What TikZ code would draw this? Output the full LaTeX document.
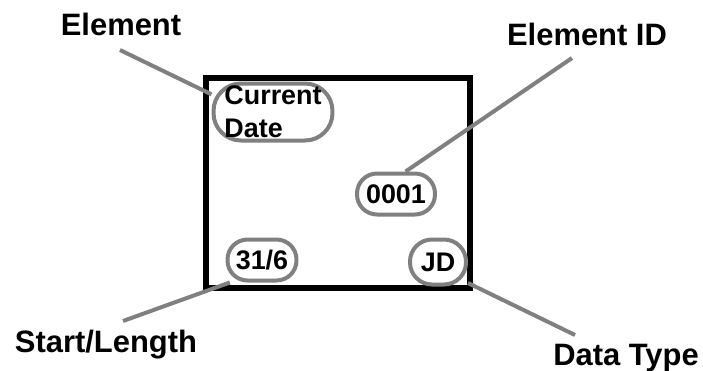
\documentclass[tikz,border=0pt]{standalone}
\usepackage{fontspec}
\setmainfont{Liberation Sans}
\usepackage{tikz}
\definecolor{lgray}{RGB}{128,128,128}

\begin{document}
\begin{tikzpicture}[
		val/.style={draw=lgray,line width=0.08cm,inner sep=0pt,rounded corners=0.4cm,font=\fontsize{15.3}{18.8}\selectfont\bfseries},
		lab/.style={anchor=base,inner sep=0pt,font=\fontsize{17.6}{21}\selectfont\bfseries},
		lead/.style={draw=lgray,line width=0.08cm},
		x=0.02cm,y=-0.02cm]
	\useasboundingbox (0,0) rectangle (703,370);
	%% define frame
	\draw[line width=0.12cm] (206,78) rectangle (470,288);
	%% define values
	\node (cd) at (273,112) [val,align=left,minimum width=2.38cm,minimum height=1.14cm,rounded corners=0.55cm] {Current\\Date};
	\node (id) at (396,194) [val,minimum width=1.56cm,minimum height=0.82cm] {0001};
	\node (len) at (262,260) [val,minimum width=1.38cm,minimum height=0.82cm] {31/6};
	\node (typ) at (438,262) [val,minimum width=1.12cm,minimum height=0.9cm,rounded corners=0.44cm] {JD};
	%% define labels
	\node (el) at (121,35) [lab] {Element};
	\node (elid) at (587,45) [lab] {Element ID};
	\node (stl) at (106,352) [lab] {Start/Length};
	\node (dtp) at (626,365) [lab] {Data Type};
	\coordinate (el-e) at (120,50);
	\coordinate (elid-e) at (572,58);
	\coordinate (stl-e) at (123,321);
	\coordinate (dtp-e) at (575,335);
	%% define leaders
	\draw[lead] (el-e) -- (cd.164);
	\draw[lead] (elid-e) -- (id.67);
	\draw[lead] (stl-e) -- (len.215);
	\draw[lead] (dtp-e) -- (typ.325);
\end{tikzpicture}
\end{document}
